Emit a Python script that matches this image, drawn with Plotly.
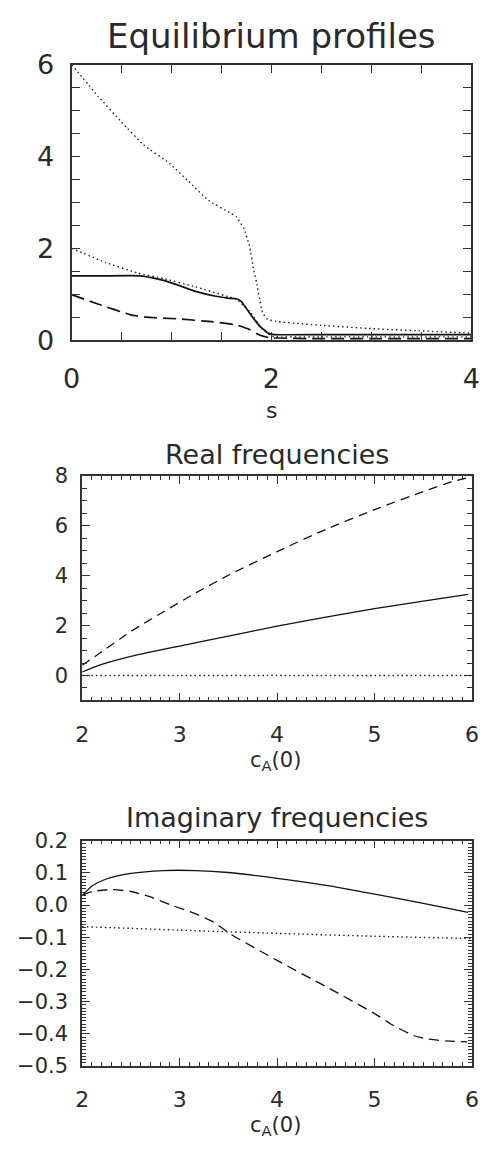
import plotly.graph_objects as go

W, H = 489, 1157

# ---------- Panel 1: Equilibrium profiles ----------
s_solid = [0.0, 0.3, 0.69, 0.80, 0.92, 1.10, 1.24, 1.43, 1.58, 1.65, 1.70, 1.78, 1.88, 1.96, 2.02, 2.5, 3.0, 3.5, 4.0]
y_solid = [1.40, 1.40, 1.40, 1.36, 1.30, 1.17, 1.06, 0.96, 0.91, 0.90, 0.84, 0.59, 0.31, 0.16, 0.12, 0.12, 0.12, 0.12, 0.12]

s_dot_hi = [0.0, 0.27, 0.50, 0.72, 0.98, 1.17, 1.37, 1.58, 1.65, 1.72, 1.78, 1.82, 1.85, 1.91, 1.96, 2.07, 2.5, 3.0, 3.5, 4.0]
y_dot_hi = [6.0, 5.30, 4.75, 4.25, 3.85, 3.46, 3.04, 2.78, 2.68, 2.45, 2.05, 1.55, 1.26, 0.60, 0.45, 0.40, 0.32, 0.25, 0.20, 0.15]

s_dot_lo = [0.0, 0.34, 0.66, 0.92, 1.24, 1.56, 1.65, 1.78, 1.91, 2.01, 2.5, 3.0, 3.5, 4.0]
y_dot_lo = [2.0, 1.69, 1.46, 1.34, 1.16, 0.95, 0.89, 0.63, 0.23, 0.08, 0.07, 0.07, 0.07, 0.07]

s_dash = [0.0, 0.27, 0.59, 0.75, 1.08, 1.40, 1.65, 1.78, 1.88, 1.98, 2.5, 3.0, 3.5, 4.0]
y_dash = [0.99, 0.78, 0.55, 0.50, 0.46, 0.40, 0.33, 0.23, 0.11, 0.05, 0.03, 0.03, 0.03, 0.03]

# ---------- Panel 2: Real frequencies ----------
ca_dash_re = [2.0, 2.17, 2.5, 2.83, 3.16, 3.5, 4.0, 4.5, 5.0, 5.5, 5.8, 6.0]
re_dash = [0.41, 0.87, 1.77, 2.55, 3.30, 4.02, 4.97, 5.86, 6.65, 7.38, 7.78, 7.97]

ca_solid_re = [2.0, 2.17, 2.5, 2.83, 3.0, 3.5, 4.0, 4.5, 5.0, 5.5, 5.96]
re_solid = [0.14, 0.41, 0.77, 1.05, 1.18, 1.58, 1.98, 2.34, 2.68, 2.98, 3.25]

ca_dot_re = [2.0, 3.0, 4.0, 5.0, 6.0]
re_dot = [0.0, 0.0, 0.0, 0.0, 0.0]

# ---------- Panel 3: Imaginary frequencies ----------
ca_solid_im = [2.0, 2.105, 2.24, 2.5, 2.83, 3.16, 3.5, 4.0, 4.5, 5.0, 5.5, 5.96]
im_solid = [0.03, 0.06, 0.08, 0.098, 0.107, 0.107, 0.101, 0.083, 0.061, 0.034, 0.005, -0.023]

ca_dash_im = [2.0, 2.105, 2.30, 2.5, 2.70, 2.93, 3.16, 3.36, 3.5, 4.0, 4.5, 5.0, 5.2, 5.4, 5.53, 5.73, 5.95]
im_dash = [0.03, 0.042, 0.048, 0.042, 0.025, -0.002, -0.027, -0.055, -0.086, -0.172, -0.253, -0.337, -0.375, -0.405, -0.415, -0.422, -0.425]

ca_dot_im = [2.0, 3.0, 4.0, 5.0, 6.0]
im_dot = [-0.067, -0.078, -0.088, -0.097, -0.104]

INK = "#2a2a2a"
FONT = "DejaVu Sans"

fig = go.Figure()

def line(x, y, xa, ya, dash, width, smoothing=0.6, color="#111111"):
    fig.add_trace(go.Scatter(
        x=x, y=y, xaxis=xa, yaxis=ya, mode="lines",
        line=dict(color=color, width=width, dash=dash,
                  shape="spline", smoothing=smoothing),
        showlegend=False, hoverinfo="skip"))

DOT = "1.5px,3px"
line(s_dot_hi, y_dot_hi, "x", "y", DOT, 1.4, 0.3, color="#222222")
line(s_dot_lo, y_dot_lo, "x", "y", DOT, 1.4, 0.3, color="#222222")
line(s_dash, y_dash, "x", "y", "13px,6px", 1.7, 0.3)
line(s_solid, y_solid, "x", "y", "solid", 1.7, 0.3)

line(ca_dot_re, re_dot, "x2", "y2", DOT, 1.4, 0.6, color="#222222")
line(ca_dash_re, re_dash, "x2", "y2", "9px,6px", 1.3)
line(ca_solid_re, re_solid, "x2", "y2", "solid", 1.3)

line(ca_dot_im, im_dot, "x3", "y3", DOT, 1.4, 0.6, color="#222222")
line(ca_dash_im, im_dash, "x3", "y3", "10px,6px", 1.3)
line(ca_solid_im, im_solid, "x3", "y3", "solid", 1.3)

def dom_x(a, b):
    return [a / W, b / W]

def dom_y(top, bot):
    return [1 - bot / H, 1 - top / H]

def ax(domain, rng, dtick, minor_dtick, fsize, anchor, ticklen, minorlen, standoff, tick0=None, fmt=None):
    d = dict(domain=domain, range=rng, dtick=dtick, anchor=anchor,
             showline=True, linecolor="#333333", linewidth=1.8, mirror="allticks",
             ticks="inside", ticklen=ticklen, tickwidth=1.1, tickcolor="#333333",
             showgrid=False, zeroline=False,
             tickfont=dict(family=FONT, size=fsize, color=INK),
             ticklabelstandoff=standoff,
             minor=dict(ticks="inside", ticklen=minorlen, dtick=minor_dtick,
                        tickwidth=1, tickcolor="#333333", showgrid=False))
    if tick0 is not None:
        d["tick0"] = tick0
    if fmt is not None:
        d["tickformat"] = fmt
    return d

fig.update_layout(
    width=W, height=H,
    margin=dict(l=0, r=0, t=0, b=0),
    paper_bgcolor="white", plot_bgcolor="white",
    xaxis=ax(dom_x(65, 480), [0, 4], 2, 0.5, 27, "y", 8, 8, 14),
    yaxis=ax(dom_y(50, 333), [0, 6], 2, 0.5, 27, "x", 8, 8, 10),
    xaxis2=ax(dom_x(76, 480.7), [2, 6], 1, 0.1, 22, "y2", 8, 4, 13),
    yaxis2=ax(dom_y(472.7, 703.3), [-1, 8], 2, 0.5, 21, "x2", 8, 5, 8, tick0=0),
    xaxis3=ax(dom_x(76, 480.7), [2, 6], 1, 0.1, 22, "y3", 8, 4, 13),
    yaxis3=ax(dom_y(847.3, 1079), [-0.5, 0.2], 0.1, 0.01, 21, "x3", 8, 4, 8, fmt=".1f"),
)

def text(t, xpx, ypx, size):
    fig.add_annotation(text=t, x=xpx / W, y=1 - ypx / H, xref="paper", yref="paper",
                       xanchor="center", yanchor="middle", showarrow=False,
                       font=dict(family=FONT, size=size, color=INK))

text("Equilibrium profiles", 272.5, 21, 34)
text("s", 273, 405, 22)
text("Real frequencies", 278.5, 450.5, 27)
text("c<sub>A</sub>(0)", 277, 765, 21)
text("Imaginary frequencies", 278.5, 824, 27)
text("c<sub>A</sub>(0)", 277, 1141, 21)

fig.write_html("out.html", config={"displayModeBar": False},
               post_script="document.body.style.margin='0';document.body.style.overflow='hidden';")
